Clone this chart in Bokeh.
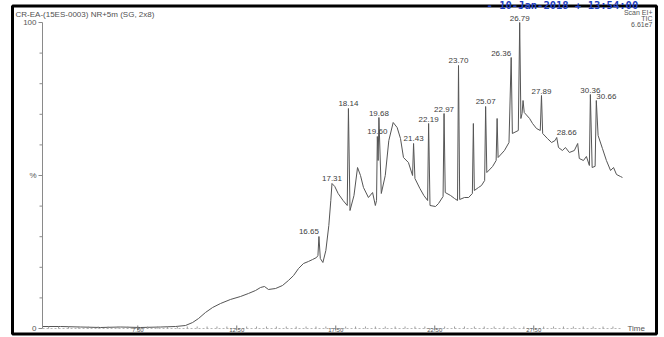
import numpy as np
from bokeh.plotting import figure
from bokeh.models import ColumnDataSource, Range1d
from bokeh.embed import file_html
from bokeh.resources import INLINE
from bokeh.core.properties import value

# ---- data ----
times = [2.69, 3.60, 4.61, 5.62, 6.63, 7.64, 8.65, 9.41, 9.91, 10.27, 10.57, 10.92,
         11.28, 11.68, 12.18, 12.69, 13.09, 13.45, 13.70, 13.90, 14.10, 14.46, 14.81,
         15.11, 15.37, 15.62, 15.87, 16.12, 16.33, 16.53, 16.60, 16.65, 16.72, 16.85,
         17.00, 17.15, 17.25, 17.31, 17.45, 17.62, 17.87, 18.08, 18.14, 18.22, 18.42,
         18.60, 18.75, 18.90, 19.15, 19.36, 19.50, 19.56, 19.60, 19.64, 19.68, 19.80,
         20.00, 20.18, 20.40, 20.60, 20.77, 20.92, 21.17, 21.38, 21.43, 21.50, 21.75,
         21.95, 22.14, 22.19, 22.26, 22.54, 22.69, 22.92, 22.97, 23.03, 23.30, 23.50,
         23.65, 23.70, 23.76, 24.00, 24.21, 24.40, 24.45, 24.50, 24.71, 24.86, 25.02,
         25.07, 25.13, 25.42, 25.60, 25.65, 25.70, 26.02, 26.25, 26.36, 26.42, 26.72,
         26.79, 26.85, 26.91, 26.96, 27.02, 27.29, 27.44, 27.64, 27.83, 27.89, 27.95,
         28.19, 28.40, 28.58, 28.66, 28.75, 28.95, 29.10, 29.30, 29.55, 29.72, 29.80,
         30.01, 30.16, 30.31, 30.36, 30.45, 30.60, 30.66, 30.75, 30.97, 31.17, 31.38,
         31.53, 31.68, 31.88, 31.98]
intensity = [0.65, 0.65, 0.49, 0.33, 0.49, 0.33, 0.49, 0.65, 0.98, 1.96, 3.27, 5.23,
             6.86, 8.17, 9.48, 10.46, 11.44, 12.42, 13.40, 13.73, 12.75, 13.07, 14.05,
             15.69, 17.32, 19.61, 21.24, 21.90, 22.55, 23.20, 23.86, 30.07, 22.88, 21.57,
             25.49, 33.66, 41.83, 47.39, 46.41, 44.12, 41.83, 40.20, 71.90, 38.56, 43.46,
             52.61, 50.00, 46.08, 42.81, 44.44, 40.20, 41.83, 62.75, 54.90, 68.95, 44.12,
             50.00, 61.44, 67.32, 65.69, 62.09, 55.88, 54.25, 50.00, 60.46, 49.02, 45.75,
             43.46, 41.83, 66.99, 40.20, 39.87, 40.85, 43.14, 70.26, 44.44, 43.46, 42.48,
             41.83, 85.95, 42.16, 42.81, 42.81, 44.12, 66.99, 45.10, 46.08, 46.73, 48.37,
             72.55, 50.98, 52.94, 54.90, 68.63, 55.88, 58.17, 60.78, 88.56, 63.73, 64.71,
             100.0, 68.63, 70.26, 74.51, 70.59, 68.63, 66.99, 65.36, 64.71, 76.14, 63.73,
             62.09, 60.78, 61.44, 62.42, 59.15, 58.17, 59.15, 57.52, 58.17, 60.46, 55.56,
             54.90, 56.21, 53.27, 76.47, 52.61, 53.00, 74.51, 63.07, 58.82, 54.90, 51.63,
             52.61, 50.33, 49.67, 49.35]

peak_times = [16.65, 17.31, 18.14, 19.60, 19.68, 21.43, 22.19, 22.97, 23.70, 25.07,
              26.36, 26.79, 27.89, 28.66, 30.36, 30.66]
peak_heights = [30.07, 47.39, 71.90, 62.75, 68.95, 60.46, 66.99, 70.26, 85.95, 72.55,
                88.56, 100.0, 76.14, 62.42, 76.47, 74.51]

x_ticks = [7.5, 12.5, 17.5, 22.5, 27.5]
x_tick_labels = ["7.50", "12.50", "17.50", "22.50", "27.50"]
x_minor_ticks = [3.0, 3.5, 4.0, 4.5, 5.0, 5.5, 6.0, 6.5, 7.0, 8.0, 8.5, 9.0, 9.5, 10.0,
                 10.5, 11.0, 11.5, 12.0, 13.0, 13.5, 14.0, 14.5, 15.0, 15.5, 16.0, 16.5,
                 17.0, 18.0, 18.5, 19.0, 19.5, 20.0, 20.5, 21.0, 21.5, 22.0, 23.0, 23.5,
                 24.0, 24.5, 25.0, 25.5, 26.0, 26.5, 27.0, 28.0, 28.5, 29.0, 29.5, 30.0,
                 30.5, 31.0, 31.5]
y_ticks = [0, 50, 100]
y_tick_labels = ["0", "%", "100"]
y_minor_ticks = [10, 20, 30, 40, 60, 70, 80, 90]
x_axis_start, x_axis_end = 2.69, 31.9

title_text = "CR-EA-(15ES-0003) NR+5m (SG, 2x8)"
date_text = "- 10-Jan-2018  +  13:54:00"
info_lines = ["Scan EI+", "TIC", "6.61e7"]

# label alignment per peak label (style only)
peak_align = ["right", "center", "center", "center", "center", "center", "center",
              "center", "center", "center", "right", "center", "center", "left",
              "center", "left"]

# ---- layout: the frame covers the whole canvas; scales map data to pixels ----
W, H = 664, 337
X0, X1 = 0.567, 34.104
Y0, Y1 = -2.94, 107.19
PXX = (X1 - X0) / W
PXY = (Y1 - Y0) / H


def xs(px):
    return X0 + px * PXX


def ys(py):
    return Y1 - py * PXY


FONT = value("Liberation Sans")
GREY = "#555555"
AXC = "#8a8a8a"

p = figure(width=W, height=H, x_range=Range1d(X0, X1), y_range=Range1d(Y0, Y1),
           x_axis_type=None, y_axis_type=None, output_backend="svg",
           toolbar_location=None, min_border=0)
p.outline_line_color = None
p.background_fill_color = "white"
p.border_fill_color = "white"

# trace
p.line(times, intensity, line_color="#555555", line_width=1)

# peak labels
src = ColumnDataSource(dict(t=peak_times, h=peak_heights,
                            lbl=[f"{t:.2f}" for t in peak_times], al=peak_align))
p.text(x="t", y="h", text="lbl", source=src, text_align="al", text_baseline="bottom",
       y_offset=-2, text_font=FONT, text_font_size="8px", text_color="#404040")

# y axis
yx = xs(42)
p.segment(x0=[yx], y0=[0], x1=[yx], y1=[100], line_color=AXC, line_width=1)
p.segment(x0=[xs(38)] * len(y_ticks), y0=y_ticks, x1=[yx] * len(y_ticks), y1=y_ticks,
          line_color=AXC, line_width=1)
p.segment(x0=[xs(39)] * len(y_minor_ticks), y0=y_minor_ticks,
          x1=[yx] * len(y_minor_ticks), y1=y_minor_ticks, line_color=AXC, line_width=1)
p.text(x=[xs(36)] * len(y_ticks), y=y_ticks, text=y_tick_labels, text_align="right",
       text_baseline="middle", text_font=FONT, text_font_size="8px", text_color=GREY)

# x axis
p.segment(x0=[x_axis_start], y0=[0], x1=[x_axis_end], y1=[0], line_color="#b5b5b5",
          line_width=1, line_dash="2 2")
p.segment(x0=x_ticks, y0=[ys(330)] * len(x_ticks), x1=x_ticks, y1=[ys(325)] * len(x_ticks),
          line_color="#777777", line_width=1)
p.segment(x0=x_minor_ticks, y0=[0] * len(x_minor_ticks), x1=x_minor_ticks,
          y1=[ys(326)] * len(x_minor_ticks), line_color="#999999", line_width=1)
p.text(x=x_ticks, y=[ys(329.5)] * len(x_ticks), text=x_tick_labels, text_align="center",
       text_baseline="middle", text_font=FONT, text_font_size="6px", text_color=GREY)
p.text(x=[xs(627)], y=[0], text=["Time"], text_align="left", text_baseline="middle",
       text_font=FONT, text_font_size="8px", text_color=GREY)

# outer black frame
p.quad(left=[xs(12)], right=[xs(656)], top=[ys(5.5)], bottom=[ys(333.5)],
       fill_color=None, line_color="black", line_width=3)

# header texts
p.text(x=[xs(15)], y=[ys(14)], text=[title_text], text_align="left",
       text_baseline="middle", text_font=FONT, text_font_size="8px", text_color="#505050")
p.text(x=[xs(486)], y=[ys(4.5)], text=[date_text], text_align="left",
       text_baseline="middle", text_font=value("DejaVu Sans Mono"), text_font_size="10.5px",
       text_font_style="bold", text_color="#1f3fbf")
p.text(x=[xs(652)] * 3, y=[ys(11.5), ys(17.5), ys(23.5)], text=info_lines,
       text_align="right", text_baseline="middle", text_font=FONT, text_font_size="7px",
       text_color=GREY)

open("out.html", "w").write(file_html(p, INLINE))
